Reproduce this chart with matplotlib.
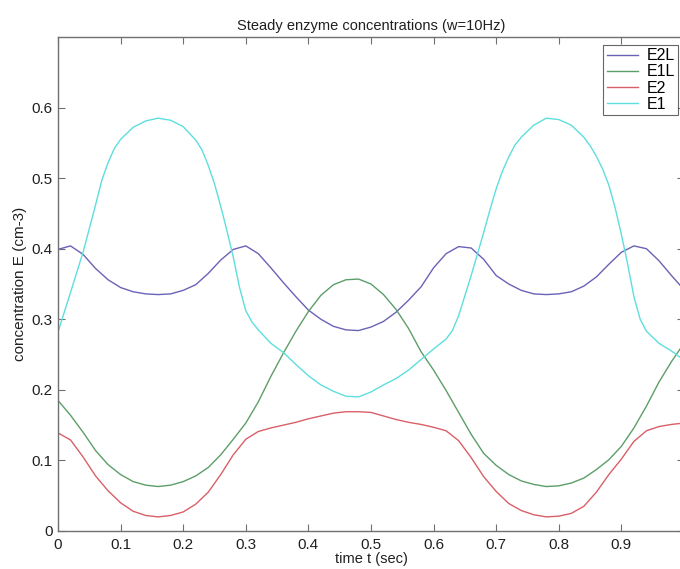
import matplotlib
matplotlib.use('Agg')
import matplotlib.pyplot as plt

# time grid (sec)
t = [0.00, 0.02, 0.04, 0.06, 0.08, 0.10, 0.12, 0.14, 0.16, 0.18,
     0.20, 0.22, 0.24, 0.26, 0.28, 0.30, 0.32, 0.34, 0.36, 0.38,
     0.40, 0.42, 0.44, 0.46, 0.48, 0.50, 0.52, 0.54, 0.56, 0.58,
     0.60, 0.62, 0.64, 0.66, 0.68, 0.70, 0.72, 0.74, 0.76, 0.78,
     0.80, 0.82, 0.84, 0.86, 0.88, 0.90, 0.92, 0.94, 0.96, 0.98, 1.00]

e2l = [0.399, 0.404, 0.392, 0.372, 0.356, 0.345, 0.339, 0.336, 0.335, 0.336,
       0.341, 0.349, 0.365, 0.384, 0.399, 0.404, 0.393, 0.373, 0.352, 0.332,
       0.313, 0.300, 0.290, 0.285, 0.284, 0.289, 0.297, 0.310, 0.327, 0.346,
       0.373, 0.393, 0.403, 0.401, 0.385, 0.362, 0.350, 0.341, 0.336, 0.335,
       0.336, 0.339, 0.347, 0.360, 0.378, 0.395, 0.404, 0.400, 0.383, 0.362, 0.342]

e1l = [0.185, 0.164, 0.140, 0.114, 0.094, 0.080, 0.070, 0.065, 0.063, 0.065,
       0.070, 0.078, 0.090, 0.108, 0.130, 0.153, 0.183, 0.219, 0.252, 0.283,
       0.311, 0.334, 0.349, 0.356, 0.357, 0.350, 0.335, 0.314, 0.287, 0.254,
       0.228, 0.199, 0.168, 0.137, 0.110, 0.093, 0.080, 0.071, 0.066, 0.063,
       0.064, 0.068, 0.075, 0.087, 0.101, 0.120, 0.146, 0.177, 0.211, 0.240, 0.266]

e2 = [0.139, 0.129, 0.105, 0.078, 0.057, 0.040, 0.028, 0.022, 0.020, 0.022,
      0.027, 0.038, 0.055, 0.080, 0.108, 0.130, 0.141, 0.146, 0.150, 0.154,
      0.159, 0.163, 0.167, 0.169, 0.169, 0.168, 0.163, 0.158, 0.154, 0.151,
      0.147, 0.142, 0.128, 0.104, 0.077, 0.056, 0.039, 0.029, 0.023, 0.020,
      0.021, 0.025, 0.035, 0.055, 0.080, 0.102, 0.127, 0.142, 0.148, 0.151, 0.153]

t_e1 = [0.00, 0.02, 0.04, 0.06, 0.07, 0.08, 0.09, 0.10, 0.12, 0.14,
        0.16, 0.18, 0.20, 0.22, 0.23, 0.24, 0.25, 0.26, 0.27, 0.28,
        0.29, 0.30, 0.31, 0.32, 0.34, 0.36, 0.38, 0.40, 0.42, 0.44,
        0.46, 0.48, 0.50, 0.52, 0.54, 0.56, 0.58, 0.60, 0.62, 0.63,
        0.64, 0.66, 0.68, 0.69, 0.70, 0.71, 0.72, 0.73, 0.74, 0.76,
        0.78, 0.80, 0.82, 0.84, 0.85, 0.86, 0.87, 0.88, 0.89, 0.90,
        0.91, 0.92, 0.93, 0.94, 0.96, 0.98, 1.00]
e1 = [0.282, 0.338, 0.395, 0.462, 0.497, 0.522, 0.542, 0.555, 0.572, 0.581,
      0.585, 0.582, 0.573, 0.554, 0.540, 0.518, 0.492, 0.460, 0.425, 0.388,
      0.345, 0.312, 0.296, 0.285, 0.266, 0.253, 0.236, 0.220, 0.207, 0.198,
      0.191, 0.190, 0.197, 0.207, 0.216, 0.228, 0.243, 0.258, 0.272, 0.284,
      0.305, 0.362, 0.423, 0.455, 0.485, 0.510, 0.530, 0.547, 0.558, 0.575,
      0.585, 0.583, 0.575, 0.558, 0.546, 0.531, 0.513, 0.490, 0.458, 0.420,
      0.378, 0.332, 0.300, 0.283, 0.266, 0.255, 0.242]

plt.rcParams['font.family'] = ['Liberation Sans', 'DejaVu Sans']

fig = plt.figure(figsize=(6.8, 5.69), dpi=100)
ax = fig.add_axes([58 / 680, 38 / 569, 626 / 680, 494 / 569])

ax.plot(t, e2l, color='#6a62b8', lw=1.0, label='E2L')
ax.plot(t, e1l, color='#5c9e68', lw=1.0, label='E1L')
ax.plot(t, e2, color='#d95f68', lw=1.0, label='E2')
ax.plot(t_e1, e1, color='#5edede', lw=1.0, label='E1')

ax.set_xlim(0, 1.0)
ax.set_ylim(0, 0.7)
ax.set_xticks([0, 0.1, 0.2, 0.3, 0.4, 0.5, 0.6, 0.7, 0.8, 0.9])
ax.set_xticklabels(['0', '0.1', '0.2', '0.3', '0.4', '0.5', '0.6', '0.7', '0.8', '0.9'])
ax.set_yticks([0, 0.1, 0.2, 0.3, 0.4, 0.5, 0.6])
ax.set_yticklabels(['0', '0.1', '0.2', '0.3', '0.4', '0.5', '0.6'])
ax.tick_params(direction='in', top=True, right=True, length=5, width=0.8,
               color='#707070', labelsize=11, labelcolor='#202020')
ax.tick_params(axis='x', pad=5)
ax.tick_params(axis='y', pad=4)
for s in ax.spines.values():
    s.set_color('#707070')
    s.set_linewidth(1.0)

ax.set_title('Steady enzyme concentrations (w=10Hz)', fontsize=10.5, color='#202020', pad=5)
ax.set_xlabel('time t (sec)', fontsize=10.5, color='#202020', labelpad=0)
ax.set_ylabel('concentration E (cm-3)', fontsize=11, color='#202020', labelpad=3)

leg = ax.legend(loc='upper right', bbox_to_anchor=(678 / 680, 1 - 45 / 569),
                bbox_transform=fig.transFigure, fontsize=11.5, frameon=True,
                fancybox=False, borderpad=0.2, labelspacing=0.08,
                handlelength=2.0, handletextpad=0.5, borderaxespad=0)
leg.get_frame().set_edgecolor('#404040')
leg.get_frame().set_linewidth(0.8)

fig.savefig('out.png', dpi=100)
